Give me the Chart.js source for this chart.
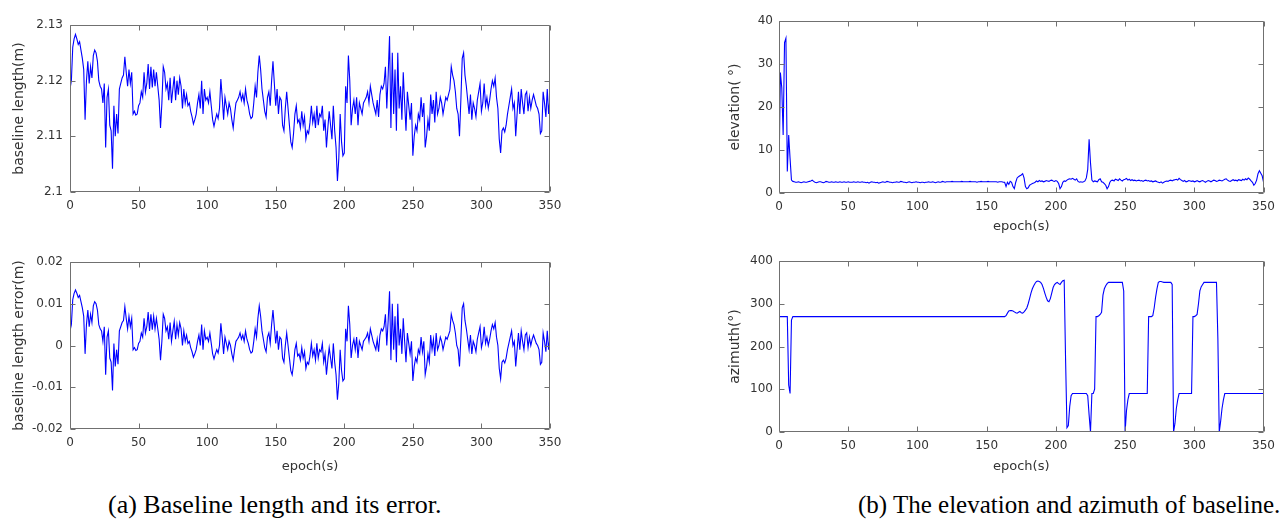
<!DOCTYPE html>
<html>
<head>
<meta charset="utf-8">
<script src="https://cdn.jsdelivr.net/npm/chart.js@4.4.1/dist/chart.umd.min.js"></script>
<style>
  html, body { margin: 0; padding: 0; background: #fff; }
  body { width: 1282px; height: 527px; position: relative; overflow: hidden; }
  canvas { position: absolute; }
  .cap { position: absolute; font-family: "Liberation Serif", "Times New Roman", serif; line-height: 26px; color: #000; white-space: nowrap; }
</style>
</head>
<body>
<canvas id="len" width="600" height="240" style="left:0;top:0"></canvas>
<canvas id="err" width="600" height="238" style="left:0;top:240px"></canvas>
<canvas id="elev" width="561" height="238" style="left:721px;top:0"></canvas>
<canvas id="azi" width="561" height="238" style="left:721px;top:240px"></canvas>
<div class="cap" style="left:108px;top:492px;font-size:26px">(a) Baseline length and its error.</div>
<div class="cap" style="left:858px;top:492px;font-size:25px">(b) The elevation and azimuth of baseline.</div>
<script>
// one sample per epoch, 0..350 s
const epochs = Array.from({ length: 351 }, (_, i) => i);
const epochTicks = [0, 50, 100, 150, 200, 250, 300, 350];

// baseline length (m)
const lengthTicks = [2.1, 2.11, 2.12, 2.13];
const baselineLength = [
  2.1185,2.1200,2.1260,2.1275,2.1283,2.1275,2.1265,2.1270,2.1255,2.1240, // 0
  2.1220,2.1130,2.1200,2.1235,2.1195,2.1225,2.1205,2.1245,2.1255,2.1250, // 10
  2.1235,2.1200,2.1190,2.1185,2.1160,2.1195,2.1080,2.1170,2.1185,2.1120, // 20
  2.1110,2.1042,2.1155,2.1100,2.1140,2.1105,2.1185,2.1195,2.1205,2.1210, // 30
  2.1243,2.1215,2.1190,2.1220,2.1195,2.1215,2.1140,2.1145,2.1138,2.1140, // 40
  2.1155,2.1160,2.1180,2.1170,2.1215,2.1180,2.1195,2.1230,2.1185,2.1225, // 50
  2.1188,2.1220,2.1190,2.1215,2.1190,2.1165,2.1115,2.1160,2.1225,2.1215, // 60
  2.1185,2.1195,2.1165,2.1205,2.1160,2.1185,2.1208,2.1165,2.1200,2.1175, // 70
  2.1205,2.1190,2.1150,2.1185,2.1160,2.1175,2.1155,2.1160,2.1145,2.1135, // 80
  2.1122,2.1130,2.1140,2.1160,2.1175,2.1150,2.1200,2.1140,2.1185,2.1165, // 90
  2.1170,2.1160,2.1180,2.1155,2.1130,2.1118,2.1130,2.1140,2.1132,2.1150, // 100
  2.1203,2.1170,2.1130,2.1170,2.1155,2.1140,2.1160,2.1150,2.1130,2.1115, // 110
  2.1140,2.1160,2.1165,2.1170,2.1180,2.1165,2.1175,2.1160,2.1185,2.1165, // 120
  2.1155,2.1140,2.1132,2.1135,2.1160,2.1190,2.1170,2.1215,2.1245,2.1220, // 130
  2.1185,2.1165,2.1145,2.1135,2.1170,2.1180,2.1155,2.1200,2.1235,2.1195, // 140
  2.1155,2.1185,2.1140,2.1170,2.1165,2.1120,2.1110,2.1150,2.1180,2.1150, // 150
  2.1120,2.1090,2.1080,2.1105,2.1140,2.1155,2.1125,2.1130,2.1115,2.1145, // 160
  2.1120,2.1135,2.1095,2.1110,2.1105,2.1125,2.1155,2.1125,2.1140,2.1115, // 170
  2.1155,2.1120,2.1140,2.1135,2.1155,2.1110,2.1130,2.1080,2.1115,2.1145, // 180
  2.1120,2.1095,2.1155,2.1110,2.1080,2.1020,2.1060,2.1140,2.1090,2.1065, // 190
  2.1070,2.1190,2.1160,2.1245,2.1200,2.1120,2.1150,2.1165,2.1140,2.1170, // 200
  2.1120,2.1160,2.1150,2.1140,2.1160,2.1165,2.1170,2.1180,2.1160,2.1190, // 210
  2.1175,2.1160,2.1150,2.1140,2.1165,2.1135,2.1175,2.1190,2.1185,2.1195, // 220
  2.1225,2.1150,2.1210,2.1280,2.1115,2.1250,2.1140,2.1220,2.1110,2.1250, // 230
  2.1150,2.1190,2.1130,2.1215,2.1160,2.1110,2.1180,2.1155,2.1130,2.1160, // 240
  2.1065,2.1100,2.1120,2.1110,2.1140,2.1130,2.1170,2.1135,2.1160,2.1080, // 250
  2.1100,2.1130,2.1110,2.1175,2.1140,2.1165,2.1125,2.1180,2.1140,2.1150, // 260
  2.1170,2.1160,2.1140,2.1155,2.1170,2.1165,2.1175,2.1185,2.1225,2.1210, // 270
  2.1200,2.1180,2.1150,2.1140,2.1100,2.1165,2.1240,2.1250,2.1210,2.1190, // 280
  2.1165,2.1140,2.1175,2.1130,2.1160,2.1150,2.1135,2.1165,2.1180,2.1195, // 290
  2.1145,2.1160,2.1195,2.1155,2.1170,2.1150,2.1165,2.1185,2.1200,2.1190, // 300
  2.1205,2.1170,2.1150,2.1095,2.1070,2.1110,2.1115,2.1108,2.1120,2.1140, // 310
  2.1155,2.1170,2.1185,2.1150,2.1160,2.1100,2.1140,2.1180,2.1140,2.1185, // 320
  2.1160,2.1140,2.1175,2.1180,2.1145,2.1170,2.1150,2.1165,2.1175,2.1165, // 330
  2.1155,2.1150,2.1140,2.1105,2.1110,2.1180,2.1160,2.1135,2.1185,2.1140, // 340
  2.1170
];

// baseline length error (m)
const errorTicks = [-0.02, -0.01, 0, 0.01, 0.02];
const lengthError = [
  0.0035,0.005,0.011,0.0125,0.0133,0.0125,0.0115,0.012,0.0105,0.009, // 0
  0.007,-0.002,0.005,0.0085,0.0045,0.0075,0.0055,0.0095,0.0105,0.01, // 10
  0.0085,0.005,0.004,0.0035,0.001,0.0045,-0.007,0.002,0.0035,-0.003, // 20
  -0.004,-0.0108,0.0005,-0.005,-0.001,-0.0045,0.0035,0.0045,0.0055,0.006, // 30
  0.0093,0.0065,0.004,0.007,0.0045,0.0065,-0.001,-0.0005,-0.0012,-0.001, // 40
  0.0005,0.001,0.003,0.002,0.0065,0.003,0.0045,0.008,0.0035,0.0075, // 50
  0.0038,0.007,0.004,0.0065,0.004,0.0015,-0.0035,0.001,0.0075,0.0065, // 60
  0.0035,0.0045,0.0015,0.0055,0.001,0.0035,0.0058,0.0015,0.005,0.0025, // 70
  0.0055,0.004,0,0.0035,0.001,0.0025,0.0005,0.001,-0.0005,-0.0015, // 80
  -0.0028,-0.002,-0.001,0.001,0.0025,0,0.005,-0.001,0.0035,0.0015, // 90
  0.002,0.001,0.003,0.0005,-0.002,-0.0032,-0.002,-0.001,-0.0018,0, // 100
  0.0053,0.002,-0.002,0.002,0.0005,-0.001,0.001,0,-0.002,-0.0035, // 110
  -0.001,0.001,0.0015,0.002,0.003,0.0015,0.0025,0.001,0.0035,0.0015, // 120
  0.0005,-0.001,-0.0018,-0.0015,0.001,0.004,0.002,0.0065,0.0095,0.007, // 130
  0.0035,0.0015,-0.0005,-0.0015,0.002,0.003,0.0005,0.005,0.0085,0.0045, // 140
  0.0005,0.0035,-0.001,0.002,0.0015,-0.003,-0.004,0,0.003,0, // 150
  -0.003,-0.006,-0.007,-0.0045,-0.001,0.0005,-0.0025,-0.002,-0.0035,-0.0005, // 160
  -0.003,-0.0015,-0.0055,-0.004,-0.0045,-0.0025,0.0005,-0.0025,-0.001,-0.0035, // 170
  0.0005,-0.003,-0.001,-0.0015,0.0005,-0.004,-0.002,-0.007,-0.0035,-0.0005, // 180
  -0.003,-0.0055,0.0005,-0.004,-0.007,-0.013,-0.009,-0.001,-0.006,-0.0085, // 190
  -0.008,0.004,0.001,0.0095,0.005,-0.003,0,0.0015,-0.001,0.002, // 200
  -0.003,0.001,0,-0.001,0.001,0.0015,0.002,0.003,0.001,0.004, // 210
  0.0025,0.001,0,-0.001,0.0015,-0.0015,0.0025,0.004,0.0035,0.0045, // 220
  0.0075,0,0.006,0.013,-0.0035,0.01,-0.001,0.007,-0.004,0.01, // 230
  0,0.004,-0.002,0.0065,0.001,-0.004,0.003,0.0005,-0.002,0.001, // 240
  -0.0085,-0.005,-0.003,-0.004,-0.001,-0.002,0.002,-0.0015,0.001,-0.007, // 250
  -0.005,-0.002,-0.004,0.0025,-0.001,0.0015,-0.0025,0.003,-0.001,0, // 260
  0.002,0.001,-0.001,0.0005,0.002,0.0015,0.0025,0.0035,0.0075,0.006, // 270
  0.005,0.003,0,-0.001,-0.005,0.0015,0.009,0.01,0.006,0.004, // 280
  0.0015,-0.001,0.0025,-0.002,0.001,0,-0.0015,0.0015,0.003,0.0045, // 290
  -0.0005,0.001,0.0045,0.0005,0.002,0,0.0015,0.0035,0.005,0.004, // 300
  0.0055,0.002,0,-0.0055,-0.008,-0.004,-0.0035,-0.0042,-0.003,-0.001, // 310
  0.0005,0.002,0.0035,0,0.001,-0.005,-0.001,0.003,-0.001,0.0035, // 320
  0.001,-0.001,0.0025,0.003,-0.0005,0.002,0,0.0015,0.0025,0.0015, // 330
  0.0005,0,-0.001,-0.0045,-0.004,0.003,0.001,-0.0015,0.0035,-0.001, // 340
  0.002
];

// elevation of the baseline (deg)
const elevationTicks = [0, 10, 20, 30, 40];
const elevation = [
  4,28,24.5,13.5,35,36,5,13.5,8,3, // 0
  2.7,2.6,2.5,2.5,2.6,2.5,2.4,2.5,2.6,2.5, // 10
  2.5,2.6,2.7,2.8,3.0,2.7,2.5,2.4,2.5,2.6, // 20
  2.6,2.5,2.4,2.5,2.7,2.6,2.5,2.5,2.6,2.5, // 30
  2.5,2.6,2.5,2.5,2.6,2.5,2.5,2.6,2.5,2.5, // 40
  2.6,2.5,2.5,2.5,2.6,2.5,2.5,2.6,2.5,2.5, // 50
  2.6,2.5,2.5,2.4,2.5,2.3,2.5,2.6,2.5,2.5, // 60
  2.4,2.5,2.3,2.4,2.5,2.6,2.5,2.5,2.7,2.6, // 70
  2.5,2.5,2.4,2.5,2.5,2.6,2.5,2.5,2.7,2.6, // 80
  2.5,2.5,2.4,2.5,2.6,2.5,2.4,2.5,2.5,2.6, // 90
  2.5,2.5,2.4,2.5,2.5,2.4,2.5,2.5,2.6,2.5, // 100
  2.5,2.6,2.5,2.4,2.5,2.6,2.5,2.5,2.7,2.6, // 110
  2.5,2.6,2.6,2.6,2.6,2.7,2.6,2.6,2.6,2.6, // 120
  2.6,2.6,2.7,2.6,2.6,2.6,2.6,2.6,2.7,2.6, // 130
  2.6,2.6,2.6,2.5,2.6,2.6,2.7,2.6,2.6,2.6, // 140
  2.6,2.7,2.6,2.6,2.6,2.6,2.6,2.6,2.5,2.6, // 150
  2.6,2.6,2.5,2.5,1.5,2.5,2.0,2.7,2.5,1.5, // 160
  1.0,2.5,3.5,3.8,4.0,4.2,4.5,3.5,1.5,1.0, // 170
  1.2,1.8,2.0,2.2,2.3,2.5,2.8,2.6,2.9,2.7, // 180
  2.8,2.6,2.7,2.9,2.8,2.7,2.9,3.0,2.8,2.7, // 190
  2.9,2.7,2.2,1.0,1.5,2.5,2.8,2.7,3.0,3.2, // 200
  3.3,3.2,3.4,3.2,3.0,3.3,2.7,2.5,2.6,2.5, // 210
  2.6,2.8,3.5,5.5,12.5,7,3.0,2.6,2.8,2.7, // 220
  2.6,3.1,3.3,2.6,2.5,2.2,1.8,1.0,1.5,2.5, // 230
  2.9,3.0,2.8,3.2,3.1,2.9,3.3,3.0,2.8,3.1, // 240
  3.2,3.4,3.0,3.2,2.9,3.1,2.9,3.0,2.8,2.9, // 250
  3.0,2.8,2.9,2.7,2.9,3.0,2.8,2.9,2.7,2.8, // 260
  2.6,2.7,2.8,2.6,2.5,2.4,2.6,2.3,2.5,2.7, // 270
  2.8,2.7,2.9,3.0,2.8,3.0,3.1,3.2,3.0,3.4, // 280
  3.1,2.9,2.7,2.9,2.6,2.7,2.9,2.8,2.7,2.8, // 290
  2.6,2.7,2.9,2.7,2.6,2.8,2.9,2.7,2.5,2.7, // 300
  2.9,2.8,2.6,2.8,3.0,2.9,2.7,2.8,3.0,2.9, // 310
  2.8,3.0,3.2,3.3,3.0,2.8,2.7,2.9,3.1,2.9, // 320
  3.0,2.8,3.1,3.0,2.9,3.2,3.0,3.3,3.1,3.5, // 330
  3.2,2.8,2.5,1.8,2.2,3.0,4.5,5.2,4.6,4.0, // 340
  2.5
];

// azimuth of the baseline (deg)
const azimuthTicks = [0, 100, 200, 300, 400];
const azimuth = [
  270,270,270,270,270,270,270,110,90,262, // 0
  270,270,270,270,270,270,270,270,270,270, // 10
  270,270,270,270,270,270,270,270,270,270, // 20
  270,270,270,270,270,270,270,270,270,270, // 30
  270,270,270,270,270,270,270,270,270,270, // 40
  270,270,270,270,270,270,270,270,270,270, // 50
  270,270,270,270,270,270,270,270,270,270, // 60
  270,270,270,270,270,270,270,270,270,270, // 70
  270,270,270,270,270,270,270,270,270,270, // 80
  270,270,270,270,270,270,270,270,270,270, // 90
  270,270,270,270,270,270,270,270,270,270, // 100
  270,270,270,270,270,270,270,270,270,270, // 110
  270,270,270,270,270,270,270,270,270,270, // 120
  270,270,270,270,270,270,270,270,270,270, // 130
  270,270,270,270,270,270,270,270,270,270, // 140
  270,270,270,270,270,270,270,270,270,270, // 150
  270,270,270,270,272,278,283,284,284,283, // 160
  281,279,278,280,282,279,278,281,285,290, // 170
  300,312,325,335,342,348,352,353,352,350, // 180
  345,336,325,315,307,305,312,325,338,345, // 190
  348,350,347,345,350,354,355,170,10,15, // 200
  60,85,90,90,90,90,90,90,90,90, // 210
  90,90,90,85,40,0,90,90,100,270, // 220
  270,272,275,280,320,335,342,347,350,350, // 230
  350,350,350,350,350,350,350,350,350,330, // 240
  0,50,75,90,90,90,90,90,90,90, // 250
  90,90,90,90,90,90,90,270,270,270, // 260
  272,290,315,335,350,352,352,351,350,350, // 270
  350,350,350,350,345,0,20,55,75,90, // 280
  90,90,90,90,90,90,90,90,90,270, // 290
  270,272,275,300,330,340,345,350,350,350, // 300
  350,350,350,350,350,350,350,220,0,25, // 310
  55,75,90,90,90,90,90,90,90,90, // 320
  90,90,90,90,90,90,90,90,90,90, // 330
  90,90,90,90,90,90,90,90,90,90, // 340
  90
];

const tickFont = { family: 'DejaVu Sans', size: 12 };
const textColor = '#333';

// matlab style box with inward ticks on all four sides
const boxPlugin = {
  id: 'box',
  afterDraw(chart) {
    const { ctx, chartArea: a, scales: { x, y } } = chart;
    const L = Math.round(a.left) + 0.5, R = Math.round(a.right) - 0.5;
    const T = Math.round(a.top) + 0.5, B = Math.round(a.bottom) - 0.5;
    ctx.save();
    ctx.strokeStyle = '#707070';
    ctx.lineWidth = 1;
    ctx.beginPath();
    ctx.rect(L, T, R - L, B - T);
    x.ticks.forEach(t => {
      const px = Math.round(x.getPixelForValue(t.value)) + 0.5;
      ctx.moveTo(px, B); ctx.lineTo(px, B - 5);
      ctx.moveTo(px, T); ctx.lineTo(px, T + 5);
    });
    y.ticks.forEach(t => {
      const py = Math.round(y.getPixelForValue(t.value)) + 0.5;
      ctx.moveTo(L, py); ctx.lineTo(L + 5, py);
      ctx.moveTo(R, py); ctx.lineTo(R - 5, py);
    });
    ctx.stroke();
    ctx.restore();
  }
};

function panel(id, values, yTicks, yTitle, xTitle, box) {
  return new Chart(document.getElementById(id), {
    type: 'line',
    data: {
      labels: epochs,
      datasets: [{ data: values, borderColor: '#0000ff', borderWidth: 1.1, pointRadius: 0, tension: 0, fill: false }]
    },
    options: {
      responsive: false,
      animation: false,
      events: [],
      layout: { autoPadding: false, padding: { top: box.top, right: box.right, left: 0, bottom: 0 } },
      plugins: { legend: { display: false }, tooltip: { enabled: false } },
      scales: {
        x: {
          type: 'linear', min: 0, max: 350,
          grid: { display: false, drawTicks: false }, border: { display: false },
          afterBuildTicks: s => { s.ticks = epochTicks.map(v => ({ value: v })); },
          afterFit: s => { s.height = box.xh; },
          ticks: { padding: 7, font: tickFont, color: textColor, maxRotation: 0, callback: v => String(v) },
          title: { display: !!xTitle, text: xTitle, font: { family: 'DejaVu Sans', size: 13 }, color: textColor, padding: { top: 0, bottom: 4 } }
        },
        y: {
          min: yTicks[0], max: yTicks[yTicks.length - 1],
          grid: { display: false, drawTicks: false }, border: { display: false },
          afterBuildTicks: s => { s.ticks = yTicks.map(v => ({ value: v })); },
          afterFit: s => { s.width = box.yw; },
          ticks: { padding: box.tp, font: tickFont, color: textColor, callback: v => String(v) },
          title: { display: true, text: yTitle, font: { family: 'DejaVu Sans', size: 14 }, color: textColor, padding: { top: box.ttl, bottom: 0 } }
        }
      }
    },
    plugins: [boxPlugin]
  });
}

panel('len', baselineLength, lengthTicks, 'baseline length(m)', '', { top: 25, right: 50, yw: 70, xh: 48, tp: 7, ttl: 11 });
panel('err', lengthError, errorTicks, 'baseline length error(m)', 'epoch(s)', { top: 22, right: 50, yw: 70, xh: 49, tp: 7, ttl: 11 });
panel('elev', elevation, elevationTicks, 'elevation( °)', 'epoch(s)', { top: 21, right: 12, yw: 58, xh: 45, tp: 6, ttl: 6 });
panel('azi', azimuth, azimuthTicks, 'azimuth(°)', 'epoch(s)', { top: 21, right: 12, yw: 58, xh: 46, tp: 6, ttl: 6 });
</script>
</body>
</html>
